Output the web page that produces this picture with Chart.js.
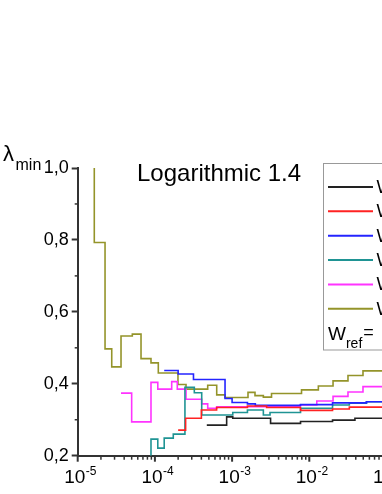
<!DOCTYPE html>
<html>
<head>
<meta charset="utf-8">
<script src="https://cdn.jsdelivr.net/npm/chart.js@4.4.1/dist/chart.umd.min.js"></script>
<style>
  html, body { margin: 0; padding: 0; overflow: hidden; background: #fff; }
  #wrap { position: relative; width: 382px; height: 494px; overflow: hidden; }
  canvas { display: block; }
</style>
</head>
<body>
<div id="wrap"><canvas id="lambdaChart" width="470" height="494"></canvas></div>
<script>
// bin edges (x, one more than values) and lambda_min per bin
const blackX = [4.7e-4, 8.5e-4, 1.02e-3, 3.15e-3, 7.7e-3, 2.0e-2, 3.9e-2, 0.15];
const blackY = [0.285, 0.308, 0.304, 0.290, 0.295, 0.299, 0.304];

const redX = [2.0e-4, 2.5e-4, 4.0e-4, 6.3e-4, 1.58e-3, 2.8e-3, 7.7e-3, 2.0e-2, 3.3e-2, 0.15];
const redY = [0.271, 0.304, 0.327, 0.334, 0.338, 0.334, 0.326, 0.330, 0.335];

const blueX = [1.32e-4, 2.0e-4, 3.16e-4, 8.1e-4, 1.0e-3, 1.58e-3, 2.0e-3, 7.7e-3, 2.0e-2, 5.5e-2, 0.15];
const blueY = [0.437, 0.427, 0.412, 0.359, 0.348, 0.344, 0.340, 0.342, 0.347, 0.350];

// first teal bin lies below the axis (clipped)
const tealX = [6.0e-5, 8.9e-5, 1.09e-4, 1.32e-4, 1.73e-4, 2.45e-4, 3.24e-4, 4.04e-4, 1.02e-3, 1.58e-3, 2.54e-3, 3.1e-3, 7.7e-3, 2.0e-2, 3.3e-2, 5.5e-2, 0.15];
const tealY = [0.15, 0.246, 0.221, 0.249, 0.260, 0.390, 0.375, 0.313, 0.320, 0.327, 0.313, 0.320, 0.332, 0.341, 0.346, 0.350];

const pinkX = [3.64e-5, 5.0e-5, 8.9e-5, 1.09e-4, 1.65e-4, 1.95e-4, 2.53e-4, 4.04e-4, 4.83e-4, 6.32e-4, 7.6e-3, 1.25e-2, 2.03e-2, 3.17e-2, 4.96e-2, 0.15];
const pinkY = [0.374, 0.294, 0.404, 0.385, 0.406, 0.385, 0.357, 0.344, 0.332, 0.336, 0.341, 0.352, 0.365, 0.377, 0.392];

// first olive bin lies above 1,0 (clipped)
const oliveX = [1.2e-5, 1.64e-5, 2.26e-5, 2.76e-5, 3.64e-5, 5.10e-5, 6.61e-5, 8.90e-5, 1.107e-4, 1.99e-4, 2.53e-4, 4.83e-4, 6.32e-4, 8.09e-4, 1.607e-3, 1.98e-3, 2.54e-3, 3.24e-3, 7.93e-3, 1.31e-2, 2.03e-2, 3.17e-2, 4.96e-2, 0.15];
const oliveY = [1.3, 0.793, 0.497, 0.447, 0.533, 0.538, 0.470, 0.458, 0.430, 0.398, 0.385, 0.396, 0.369, 0.362, 0.376, 0.367, 0.363, 0.373, 0.383, 0.394, 0.408, 0.423, 0.436];

const seriesLabels = ['W = 1', 'W = 2', 'W = 5', 'W = 10', 'W = 20', 'W = 50'];
const seriesColors = ['#222222', '#ff2222', '#2424ff', '#1f9494', '#ff33ff', '#94942a'];
const xExponents = [-5, -4, -3, -2, -1, 0];
const yMinor = [0.3, 0.5, 0.7, 0.9];

const FONT = '"Liberation Sans", Arial, sans-serif';

function steps(xs, ys) {
  return xs.map((x, i) => ({ x: x, y: ys[Math.min(i, ys.length - 1)] }));
}

const allSeries = [[blackX, blackY], [redX, redY], [blueX, blueY], [tealX, tealY], [pinkX, pinkY], [oliveX, oliveY]];

const datasets = allSeries.map((s, i) => ({
  label: seriesLabels[i],
  data: steps(s[0], s[1]),
  borderColor: seriesColors[i],
  borderWidth: 1.6,
  pointRadius: 0,
  stepped: true,
  fill: false
}));

function line(ctx, x1, y1, x2, y2) {
  ctx.beginPath();
  ctx.moveTo(x1, y1);
  ctx.lineTo(x2, y2);
  ctx.stroke();
}

const decor = {
  id: 'decor',
  afterDraw(chart) {
    const { ctx, chartArea } = chart;
    const xs = chart.scales.x, ys = chart.scales.y;
    ctx.save();
    ctx.strokeStyle = '#333';

    // x ticks: minor and decades
    ctx.lineWidth = 1.5;
    for (let e = -5; e < 0; e++) {
      for (let k = 2; k <= 9; k++) {
        const px = xs.getPixelForValue(k * Math.pow(10, e));
        line(ctx, px, chartArea.bottom, px, chartArea.bottom + 4);
      }
    }
    ctx.lineWidth = 2;
    xExponents.forEach(e => {
      const px = xs.getPixelForValue(Math.pow(10, e));
      line(ctx, px, chartArea.bottom, px, chartArea.bottom + 6);
    });

    // y minor ticks
    ctx.lineWidth = 1.5;
    yMinor.forEach(v => {
      const py = ys.getPixelForValue(v);
      line(ctx, chartArea.left - 3, py, chartArea.left, py);
    });

    // x labels with superscript
    ctx.fillStyle = '#000';
    ctx.textBaseline = 'alphabetic';
    ctx.textAlign = 'left';
    xExponents.forEach(e => {
      const px = xs.getPixelForValue(Math.pow(10, e));
      if (e === 0) {
        ctx.font = '19px ' + FONT;
        ctx.textAlign = 'center';
        ctx.fillText('1', px, 483);
        ctx.textAlign = 'left';
        return;
      }
      ctx.font = '19px ' + FONT;
      const x0 = px - 13.5;
      ctx.fillText('10', x0, 483);
      const w = ctx.measureText('10').width;
      ctx.font = '12px ' + FONT;
      ctx.fillText('-' + Math.abs(e), x0 + w + 0.5, 475);
    });

    // title
    ctx.font = '24px ' + FONT;
    ctx.fillText('Logarithmic 1.4', 137, 180.5);

    // y axis title
    ctx.font = '22px ' + FONT;
    ctx.fillText('\u03bb', 3, 161);
    ctx.font = '16px ' + FONT;
    ctx.fillText('min', 15.5, 169.5);

    // legend box
    ctx.strokeStyle = '#999';
    ctx.lineWidth = 1;
    ctx.strokeRect(323.5, 163.5, 134, 186.5);
    chart.data.datasets.forEach((d, i) => {
      const ly = 187 + i * 24.35;
      ctx.strokeStyle = d.borderColor;
      ctx.lineWidth = 2;
      line(ctx, 328, ly, 373, ly);
      ctx.font = '18px ' + FONT;
      ctx.textBaseline = 'middle';
      ctx.fillText(d.label, 376.5, ly + 1);
    });
    ctx.textBaseline = 'alphabetic';
    ctx.font = '19px ' + FONT;
    ctx.fillText('W', 328, 340);
    const ww = ctx.measureText('W').width;
    ctx.font = '14px ' + FONT;
    ctx.fillText('ref', 328 + ww, 348);
    const rw = ctx.measureText('ref').width;
    ctx.font = '18px ' + FONT;
    ctx.fillText('=', 328 + ww + rw + 1, 338);
    ctx.restore();
  }
};

new Chart(document.getElementById('lambdaChart').getContext('2d'), {
  type: 'line',
  data: { datasets: datasets },
  options: {
    responsive: false,
    animation: false,
    events: [],
    layout: { padding: { left: 0, top: 168, right: 6.3, bottom: 0 } },
    plugins: { legend: { display: false }, tooltip: { enabled: false }, title: { display: false } },
    scales: {
      x: {
        type: 'logarithmic',
        min: 1e-5,
        max: 1,
        grid: { display: false },
        border: { display: true, color: '#333', width: 2 },
        ticks: { display: false },
        afterFit(scale) { scale.height = 38.3; }
      },
      y: {
        type: 'linear',
        min: 0.2,
        max: 1.0,
        grid: { drawOnChartArea: false, drawTicks: true, tickLength: 6, tickColor: '#333', tickWidth: 2 },
        border: { display: true, color: '#333', width: 2 },
        ticks: {
          stepSize: 0.2,
          padding: 3,
          color: '#000',
          font: { family: FONT, size: 18 },
          callback: v => v.toFixed(1).replace('.', ',')
        },
        afterFit(scale) { scale.width = 77.7; }
      }
    }
  },
  plugins: [decor]
});
</script>
</body>
</html>
